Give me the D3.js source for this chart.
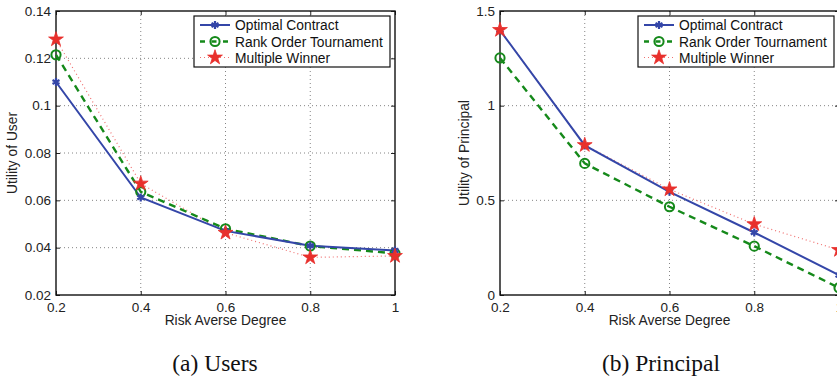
<!DOCTYPE html>
<html>
<head>
<meta charset="utf-8">
<script src="https://cdn.jsdelivr.net/npm/d3@7"></script>
<style>
  body { margin: 0; background: #fff; }
  svg { display: block; font-family: "Liberation Sans", Arial, sans-serif; }
</style>
</head>
<body>
<svg id="fig" width="837" height="380"></svg>
<script>
// risk averse degree (x axis)
var degrees = [0.2, 0.4, 0.6, 0.8, 1.0];

// (a) utility of user
var userOptimal = [0.110, 0.0612, 0.0471, 0.0408, 0.0388];
var userRank = [0.1215, 0.0636, 0.0480, 0.0407, 0.0376];
var userMultiple = [0.128, 0.0671, 0.0463, 0.0359, 0.0365];

// (b) utility of principal
var prinOptimal = [1.398, 0.790, 0.545, 0.330, 0.105];
var prinRank = [1.252, 0.695, 0.466, 0.258, 0.038];
var prinMultiple = [1.400, 0.792, 0.558, 0.374, 0.238];

var userTicks = [0.02, 0.04, 0.06, 0.08, 0.1, 0.12, 0.14];
var prinTicks = [0, 0.5, 1, 1.5];
var xTicks = [0.2, 0.4, 0.6, 0.8, 1];

var seriesNames = ["Optimal Contract", "Rank Order Tournament", "Multiple Winner"];

var blue = "#3446a8", green = "#15891a", red = "#e8302c";

var svg = d3.select("#fig");

// draw one matlab style panel
function drawPanel(opt) {
    var left = opt.left, top = 11, width = 339, height = 284;

    var x = d3.scaleLinear().domain([0.2, 1]).range([left, left + width]);
    var y = d3.scaleLinear().domain(opt.domain).range([top + height, top]);

    var g = svg.append("g");

    // dotted grid
    g.selectAll(".gx")
        .data(xTicks.slice(1, -1))
        .enter().append("line")
        .attr("x1", function (d) { return x(d); })
        .attr("x2", function (d) { return x(d); })
        .attr("y1", top).attr("y2", top + height)
        .attr("stroke", "#666").attr("stroke-width", 0.8)
        .attr("stroke-dasharray", "1,3");
    g.selectAll(".gy")
        .data(opt.ticks.slice(1, -1))
        .enter().append("line")
        .attr("x1", left).attr("x2", left + width)
        .attr("y1", function (d) { return y(d); })
        .attr("y2", function (d) { return y(d); })
        .attr("stroke", "#666").attr("stroke-width", 0.8)
        .attr("stroke-dasharray", "1,3");

    // axes with inward ticks
    g.append("g")
        .attr("transform", "translate(0," + (top + height) + ")")
        .call(d3.axisBottom(x).tickValues(xTicks).tickSizeInner(-4).tickSizeOuter(0)
            .tickPadding(7).tickFormat(d3.format("")))
        .call(function (a) { a.select(".domain").remove(); });
    g.append("g")
        .attr("transform", "translate(" + left + ",0)")
        .call(d3.axisLeft(y).tickValues(opt.ticks).tickSizeInner(-4).tickSizeOuter(0)
            .tickPadding(5).tickFormat(d3.format("")))
        .call(function (a) { a.select(".domain").remove(); });
    g.append("g")
        .attr("transform", "translate(0," + top + ")")
        .call(d3.axisTop(x).tickValues(xTicks).tickSizeInner(-4).tickSizeOuter(0).tickFormat(""))
        .call(function (a) { a.select(".domain").remove(); });
    g.append("g")
        .attr("transform", "translate(" + (left + width) + ",0)")
        .call(d3.axisRight(y).tickValues(opt.ticks).tickSizeInner(-4).tickSizeOuter(0).tickFormat(""))
        .call(function (a) { a.select(".domain").remove(); });

    g.selectAll(".tick text").attr("font-size", 13.5).attr("fill", "#222")
        .attr("font-family", "Liberation Sans, Arial, sans-serif");
    g.selectAll(".tick line").attr("stroke", "#222");

    // frame
    g.append("rect")
        .attr("x", left).attr("y", top)
        .attr("width", width).attr("height", height)
        .attr("fill", "none").attr("stroke", "#111").attr("stroke-width", 1.4);

    // axis labels
    g.append("text")
        .attr("x", left + width / 2).attr("y", 325)
        .attr("text-anchor", "middle").attr("font-size", 13.8).attr("fill", "#222")
        .text("Risk Averse Degree");
    g.append("text")
        .attr("transform", "translate(" + opt.ylabelX + "," + (top + height / 2) + ") rotate(-90)")
        .attr("text-anchor", "middle").attr("font-size", 13.8).attr("fill", "#222")
        .text(opt.ylabel);

    var line = d3.line()
        .x(function (d, i) { return x(degrees[i]); })
        .y(function (d) { return y(d); });

    // multiple winner: dotted red with stars
    g.append("path").datum(opt.multiple)
        .attr("d", line).attr("fill", "none")
        .attr("stroke", "#f07070").attr("stroke-width", 1.2)
        .attr("stroke-dasharray", "1,3");
    // rank order: dashed green with circles
    g.append("path").datum(opt.rank)
        .attr("d", line).attr("fill", "none")
        .attr("stroke", green).attr("stroke-width", 2.4)
        .attr("stroke-dasharray", "7,5");
    // optimal: solid blue with asterisks
    g.append("path").datum(opt.optimal)
        .attr("d", line).attr("fill", "none")
        .attr("stroke", blue).attr("stroke-width", 2);

    g.selectAll(".mr")
        .data(opt.rank)
        .enter().append("circle")
        .attr("cx", function (d, i) { return x(degrees[i]); })
        .attr("cy", function (d) { return y(d); })
        .attr("r", 4.6)
        .attr("fill", "none").attr("stroke", green).attr("stroke-width", 2);
    g.selectAll(".mo")
        .data(opt.optimal)
        .enter().append("path")
        .attr("transform", function (d, i) { return "translate(" + x(degrees[i]) + "," + y(d) + ")"; })
        .attr("d", d3.symbol().type(d3.symbolAsterisk).size(45))
        .attr("fill", "none").attr("stroke", blue).attr("stroke-width", 2.2);
    g.selectAll(".mm")
        .data(opt.multiple)
        .enter().append("path")
        .attr("transform", function (d, i) { return "translate(" + x(degrees[i]) + "," + y(d) + ")"; })
        .attr("d", d3.symbol().type(d3.symbolStar).size(68))
        .attr("fill", red).attr("stroke", red).attr("stroke-width", 0.8);

    // legend
    var lx = opt.legendX, ly = 16;
    var lg = g.append("g").attr("transform", "translate(" + lx + "," + ly + ")");
    lg.append("rect")
        .attr("width", 196).attr("height", 51)
        .attr("fill", "#fff").attr("stroke", "#111").attr("stroke-width", 1.2);
    var rows = [9, 25.5, 41.5];
    lg.append("line").attr("x1", 6).attr("x2", 36).attr("y1", rows[0]).attr("y2", rows[0])
        .attr("stroke", blue).attr("stroke-width", 2);
    lg.append("path").attr("transform", "translate(21," + rows[0] + ")")
        .attr("d", d3.symbol().type(d3.symbolAsterisk).size(45))
        .attr("fill", "none").attr("stroke", blue).attr("stroke-width", 2.2);
    lg.append("line").attr("x1", 6).attr("x2", 36).attr("y1", rows[1]).attr("y2", rows[1])
        .attr("stroke", green).attr("stroke-width", 2.4).attr("stroke-dasharray", "5,6.5");
    lg.append("circle").attr("cx", 21).attr("cy", rows[1]).attr("r", 4.6)
        .attr("fill", "none").attr("stroke", green).attr("stroke-width", 2);
    lg.append("line").attr("x1", 6).attr("x2", 36).attr("y1", rows[2]).attr("y2", rows[2])
        .attr("stroke", "#f07070").attr("stroke-width", 1.2).attr("stroke-dasharray", "1,3");
    lg.append("path").attr("transform", "translate(21," + rows[2] + ")")
        .attr("d", d3.symbol().type(d3.symbolStar).size(68))
        .attr("fill", red).attr("stroke", red).attr("stroke-width", 0.8);
    lg.selectAll(".lt")
        .data(seriesNames)
        .enter().append("text")
        .attr("x", 41).attr("y", function (d, i) { return rows[i] + 5; })
        .attr("font-size", 13.8).attr("fill", "#111")
        .text(function (d) { return d; });

    // caption
    svg.append("text")
        .attr("x", opt.captionX).attr("y", 371)
        .attr("text-anchor", "middle")
        .attr("font-family", "Liberation Serif, Times New Roman, serif")
        .attr("font-size", 23.5).attr("fill", "#111")
        .text(opt.caption);
}

drawPanel({
    left: 56, domain: [0.02, 0.14], ticks: userTicks,
    optimal: userOptimal, rank: userRank, multiple: userMultiple,
    ylabel: "Utility of User", ylabelX: 17, legendX: 194,
    caption: "(a) Users", captionX: 215
});
drawPanel({
    left: 500, domain: [0, 1.5], ticks: prinTicks,
    optimal: prinOptimal, rank: prinRank, multiple: prinMultiple,
    ylabel: "Utility of Principal", ylabelX: 469, legendX: 638,
    caption: "(b) Principal", captionX: 661
});
</script>
</body>
</html>
